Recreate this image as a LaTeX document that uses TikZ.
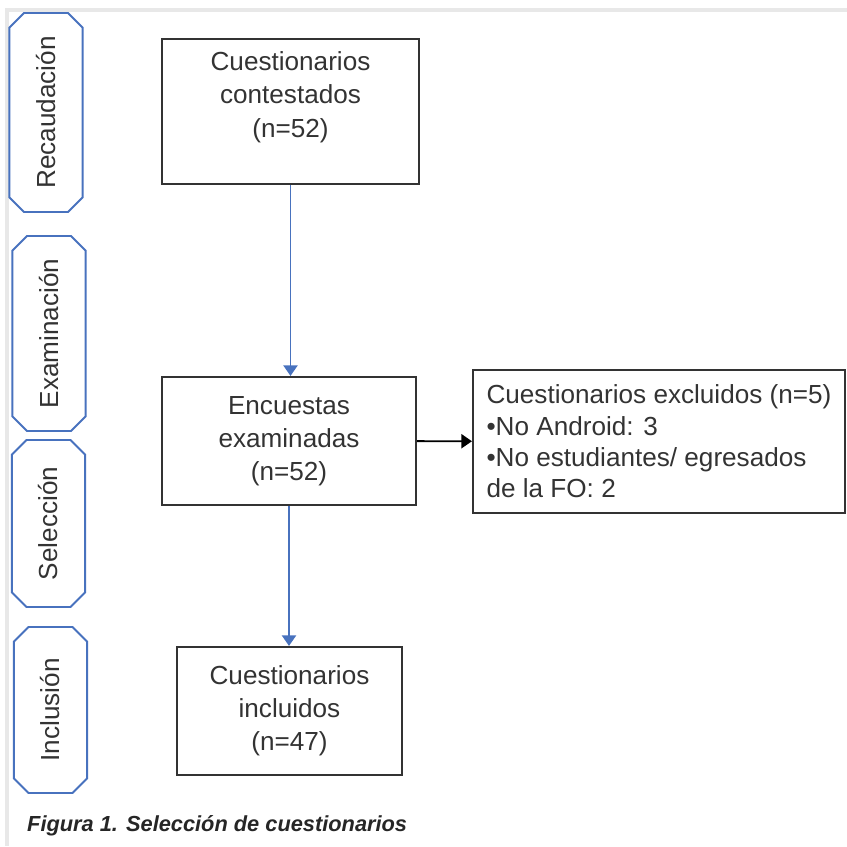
\documentclass[tikz,border=0pt]{standalone}
\usepackage{fontspec}
\setmainfont{Liberation Sans}
\usetikzlibrary{shapes.misc,arrows.meta}
\definecolor{azul}{RGB}{72,114,190}
\definecolor{marco}{RGB}{232,232,232}

\begin{document}
\begin{tikzpicture}[x=0.03cm, y=-0.03cm,
		caja/.style={draw=black!80, line width=1.8pt, text=black!80, align=center, font=\fontsize{22.3}{28}\selectfont},
		fase/.style={chamfered rectangle, chamfered rectangle xsep=0.22cm, chamfered rectangle ysep=0.22cm, draw=azul, line width=1.6pt, rotate=90, minimum height=2.2cm, inner sep=0pt, text=black!80, font=\fontsize{22.3}{28}\selectfont},
		flecha/.style={-{Triangle[width=12pt, length=9pt]}, line width=1.6pt}]
			\useasboundingbox (0,0) rectangle (847,846);
			\fill[marco] (5,8) rectangle (847,12);
			\fill[marco] (5,8) rectangle (9,846);
	
			\foreach \nom/\txt/\x/\y/\largo in {recaudacion/Recaudación/46/112.5/5.97, examinacion/Examinación/49/333.5/5.85, seleccion/Selección/48.5/523.5/5.01, inclusion/Inclusión/50.5/710/4.98} {
				\node[fase, minimum width=\largo cm] (\nom) at (\x,\y) {\txt};
			}
	
			\node[caja, minimum width=7.71cm, minimum height=4.35cm] (contestados) at (290.5,111.5) {};
			\node[text=black!80, align=center, font=\fontsize{22.3}{28.6}\selectfont] (contestadostxt) at (290.5,97) {Cuestionarios\\contestados\\(n=52)};
			\node[caja, minimum width=7.62cm, minimum height=3.84cm] (examinadas) at (289,441) {Encuestas\\examinadas\\(n=52)};
			\node[caja, minimum width=6.75cm, minimum height=3.84cm] (incluidos) at (289.5,711) {Cuestionarios\\incluidos\\(n=47)};
			\node[caja, align=left, minimum width=11.16cm, minimum height=4.29cm, font=\fontsize{22.3}{26.8}\selectfont] (excluidos) at (659,441.5) {Cuestionarios excluidos (n=5)\\•No Android: 3\\•No estudiantes/ egresados\\de la FO: 2};
	
			\foreach \desde/\hasta in {contestados/examinadas, examinadas/incluidos} {
				\draw[flecha, azul] (\desde.south) -- (\desde.south |- \hasta.north);
			}
			\draw[flecha, black] (examinadas) -- (excluidos);
	
			\node[anchor=west, inner sep=0pt, text=black!85, font=\bfseries\itshape\fontsize{18.6}{22}\selectfont] (pie) at (27,826) {Figura 1. Selección de cuestionarios};
		\end{tikzpicture}
\end{document}
